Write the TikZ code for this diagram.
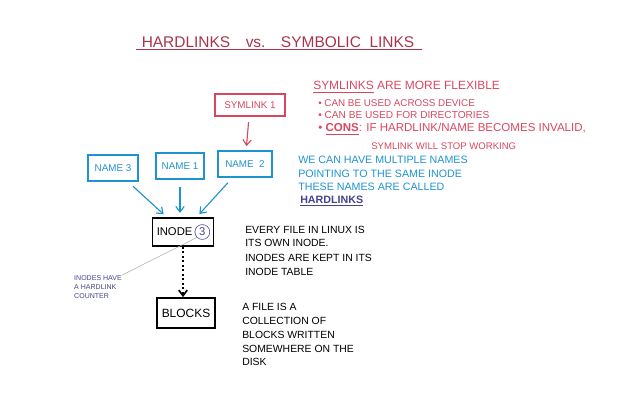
\documentclass[tikz,border=0pt]{standalone}
\usepackage{fontspec}
\setmainfont{Liberation Sans}
\usetikzlibrary{arrows.meta}

\begin{document}
\begin{tikzpicture}[x=0.025cm,y=-0.025cm]

\definecolor{title_red}{HTML}{A8334A}
\definecolor{sym_red}{HTML}{D9475F}
\definecolor{link_blue}{HTML}{1F93CF}
\definecolor{note_navy}{HTML}{44448F}

\tikzset{
  namebox/.style={draw=link_blue, thick, text=link_blue, font=\fontsize{7}{8}\selectfont, minimum height=0.65cm},
  blackbox/.style={draw, very thick, font=\fontsize{8.5}{10}\selectfont, minimum height=0.7cm},
  linkarrow/.style={link_blue, thick, -{Straight Barb[length=4pt,width=6pt]}, shorten <=5pt, shorten >=3pt},
  redtext/.style={anchor=west, text=sym_red, inner sep=0pt},
  bluetext/.style={anchor=west, text=link_blue, inner sep=0pt, font=\fontsize{7.6}{8}\selectfont},
  blacktext/.style={anchor=west, inner sep=0pt, font=\fontsize{7.4}{8}\selectfont}
}

\useasboundingbox (0,0) rectangle (640,400);

% title
\node[text=title_red, font=\fontsize{11}{12}\selectfont, inner sep=1pt] (title) at (278,42) {HARDLINKS\quad vs.\quad SYMBOLIC\ \ LINKS};
\draw[title_red, thick] ([xshift=-3pt]title.south west) -- ([xshift=4pt]title.south east);

% symlink and names
\node[draw=sym_red, thick, text=sym_red, font=\fontsize{7}{8}\selectfont, minimum width=1.75cm, minimum height=0.55cm] (sym) at (250,105) {SYMLINK 1};
\node[namebox, minimum width=1.25cm] (n3) at (113,168) {NAME 3};
\node[namebox, minimum width=1.2cm] (n1) at (180,166) {NAME 1};
\node[namebox, minimum width=1.35cm] (n2) at (245,164) {NAME\ \ 2};

\draw[sym_red, thick, -{Straight Barb[length=4pt,width=6pt]}, shorten <=4pt, shorten >=3pt] (sym) -- (n2);

% inode and blocks
\node[blackbox, inner xsep=3pt, font=\fontsize{8}{10}\selectfont] (inode) at (183,232) {INODE\kern12pt\mbox{}};
\node[circle, draw=note_navy, text=note_navy, inner sep=1.2pt, font=\fontsize{8}{9}\selectfont] (count) at ([xshift=-8.5pt]inode.east) {3};
\node[blackbox, minimum width=1.45cm, minimum height=0.75cm] (blocks) at (186,313) {BLOCKS};

\draw[linkarrow] (n3) -- (inode);
\draw[linkarrow] (n1) -- (n1 |- inode.north);
\draw[linkarrow] (n2) -- (inode);
\draw[very thick, dotted, -{Straight Barb[length=4pt,width=6pt]}] (inode.south) -- (inode.south |- blocks.north);

% inode note
\node[text=note_navy, align=left, font=\fontsize{5}{6.5}\selectfont, inner sep=0pt] (note) at (98,287) {INODES HAVE\\A HARDLINK\\COUNTER};
\draw[gray!60] (count.south west) -- (note.north east);

% symlink notes
\node[redtext, font=\fontsize{8.5}{9}\selectfont] (flex) at (313,87) {\underline{SYMLINKS} ARE MORE FLEXIBLE};
\node[redtext, font=\fontsize{7}{8}\selectfont] (dev) at (318,103) {\textbullet\ CAN BE USED ACROSS DEVICE};
\node[redtext, font=\fontsize{7.2}{8}\selectfont] (dir) at (318,115) {\textbullet\ CAN BE USED FOR DIRECTORIES};
\node[redtext, font=\fontsize{8.2}{9}\selectfont] (cons) at (318,129) {\textbullet\ \underline{\textbf{CONS}}: IF HARDLINK/NAME BECOMES INVALID,};
\node[redtext, font=\fontsize{6.8}{7}\selectfont] (stop) at (371,146) {SYMLINK WILL STOP WORKING};

% hardlink notes
\node[bluetext] (multi) at (298,160) {WE CAN HAVE MULTIPLE NAMES};
\node[bluetext] (same) at (298,174) {POINTING TO THE SAME INODE};
\node[bluetext] (called) at (298,187) {THESE NAMES ARE CALLED};
\node[bluetext, text=note_navy] (hard) at (300,201) {\underline{\textbf{HARDLINKS}}};

% inode notes
\node[blacktext] (every) at (245,230) {EVERY FILE IN LINUX IS};
\node[blacktext] (own) at (245,243) {ITS OWN INODE.};
\node[blacktext] (kept) at (245,258) {INODES ARE KEPT IN ITS};
\node[blacktext] (table) at (245,272) {INODE TABLE};

% block notes
\node[blacktext] (afile) at (242,307) {A FILE IS A};
\node[blacktext] (coll) at (242,321) {COLLECTION OF};
\node[blacktext] (written) at (242,335) {BLOCKS WRITTEN};
\node[blacktext] (where) at (242,349) {SOMEWHERE ON THE};
\node[blacktext] (disk) at (242,362) {DISK};

\end{tikzpicture}
\end{document}
